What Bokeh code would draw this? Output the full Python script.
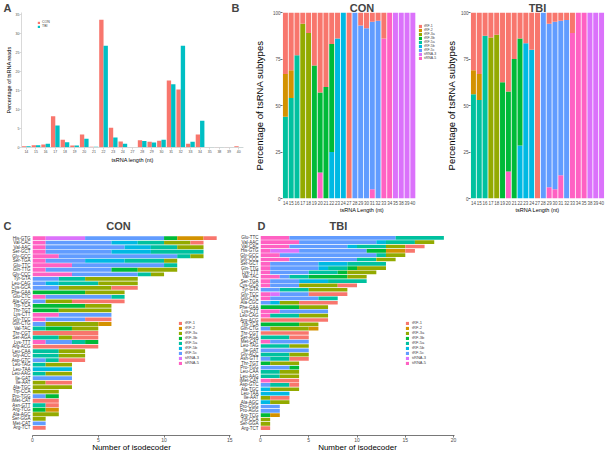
from bokeh.plotting import figure
from bokeh.models import (ColumnDataSource, Legend, LegendItem,
                          FactorRange, Range1d, FixedTicker)
from bokeh.layouts import row, column
from bokeh.transform import dodge
from bokeh.embed import file_html
from bokeh.resources import INLINE

FONT = "Liberation Sans"
NB = "\u00a0"

# ---------------- Panel A data ----------------
a_lengths = ["14", "15", "16", "17", "18", "19", "20", "21", "22", "23", "24", "27",
             "28", "29", "30", "31", "32", "33", "34", "35", "38", "39", "40"]
a_con = [0.3, 0.6, 0.8, 8.2, 2.0, 0.5, 3.4, 0.2, 33.5, 5.2, 1.6, 0.05,
         1.9, 1.5, 1.8, 17.6, 15.2, 1.0, 3.4, 0.1, 0.1, 0.1, 0.3]
a_tbi = [0.3, 0.6, 1.0, 5.8, 1.4, 0.5, 2.3, 0.2, 26.7, 2.6, 1.0, 0.0,
         1.7, 1.3, 2.0, 16.6, 26.7, 1.5, 7.0, 0.1, 0.1, 0.05, 0.15]

# ---------------- Panel B data (percent of subtypes per length) ----------------
b_lengths = a_lengths
subtypes = ["tRF-1", "tRF-2", "tRF-3a", "tRF-3b", "tRF-5a", "tRF-5b", "tRF-5c", "tiRNA-3", "tiRNA-5"]
sub_colors = ["#F8766D", "#D39200", "#93AA00", "#00BA38", "#00C19F", "#00B9E3", "#619CFF", "#DB72FB", "#FF61C3"]

b_con_trf1 = [33, 31, 23, 6, 11, 28.5, 43, 40, 17, 14, 0, 100, 0, 7, 8.5, 5, 4.5, 14, 0, 0, 0, 0, 0]
b_con_trf2 = [23, 15, 0, 0, 0, 0, 0, 0, 0, 0, 0, 0, 0, 0, 0, 0, 0, 0, 0, 0, 0, 0, 0]
b_con_trf3a = [0, 0, 0, 94, 89, 0, 0, 0, 0, 0, 0, 0, 0, 0, 0, 0, 0, 0, 0, 0, 0, 0, 0]
b_con_trf3b = [0, 0, 0, 0, 0, 71.5, 43, 60, 58, 0, 0, 0, 0, 0, 0, 0, 0, 0, 0, 0, 0, 0, 0]
b_con_trf5a = [44, 54, 77, 0, 0, 0, 0, 0, 0, 0, 0, 0, 0, 0, 0, 0, 0, 0, 0, 0, 0, 0, 0]
b_con_trf5b = [0, 0, 0, 0, 0, 0, 0, 0, 25, 86, 100, 0, 0, 0, 0, 0, 0, 0, 0, 0, 0, 0, 0]
b_con_trf5c = [0, 0, 0, 0, 0, 0, 0, 0, 0, 0, 0, 0, 100, 93, 91.5, 90, 95.5, 0, 0, 0, 0, 0, 0]
b_con_tirna3 = [0, 0, 0, 0, 0, 0, 0, 0, 0, 0, 0, 0, 0, 0, 0, 0, 0, 0, 0, 100, 100, 100, 100]
b_con_tirna5 = [0, 0, 0, 0, 0, 0, 14, 0, 0, 0, 0, 0, 0, 0, 0, 5, 0, 86, 100, 0, 0, 0, 0]

b_tbi_trf1 = [31, 33, 12.5, 13.5, 12, 37.5, 42.5, 25, 14, 16.5, 20, 100, 0, 6, 5, 4.5, 4, 11, 0, 0, 0, 0, 0]
b_tbi_trf2 = [13, 14, 0, 0, 0, 0, 0, 0, 0, 0, 0, 0, 0, 0, 0, 0, 0, 0, 0, 0, 0, 0, 0]
b_tbi_trf3a = [0, 0, 0, 86.5, 88, 0, 0, 0, 0, 0, 0, 0, 0, 0, 0, 0, 0, 0, 0, 0, 0, 0, 0]
b_tbi_trf3b = [0, 0, 0, 0, 0, 62.5, 43, 75, 57.5, 0, 0, 0, 0, 0, 0, 0, 0, 0, 0, 0, 0, 0, 0]
b_tbi_trf5a = [56, 53, 87.5, 0, 0, 0, 0, 0, 0, 0, 0, 0, 0, 0, 0, 0, 0, 0, 0, 0, 0, 0, 0]
b_tbi_trf5b = [0, 0, 0, 0, 0, 0, 0, 0, 28.5, 83.5, 80, 0, 0, 0, 0, 0, 0, 0, 0, 0, 0, 0, 0]
b_tbi_trf5c = [0, 0, 0, 0, 0, 0, 0, 0, 0, 0, 0, 0, 100, 88, 90, 83, 96, 0, 0, 0, 0, 0, 0]
b_tbi_tirna3 = [0, 0, 0, 0, 0, 0, 0, 0, 0, 0, 0, 0, 0, 0, 0, 0, 0, 0, 0, 0, 100, 100, 100]
b_tbi_tirna5 = [0, 0, 0, 0, 0, 0, 14.5, 0, 0, 0, 0, 0, 0, 6, 5, 12.5, 0, 89, 100, 100, 0, 0, 0]

# ---------------- Panel C data (CON isodecoders) ----------------
c_trna = ["His-GTG", "Val-CAC", "Val-AAC", "Ser-GCT", "Gly-GCC", "Ser-TGA", "Glu-TTC", "Gln-TTG",
          "Gly-CCC", "Tyr-GTA", "Leu-CAG", "Cys-GCA", "Phe-GAA", "Glu-CTC", "Ala-CGC", "Trp-TCA",
          "Thr-TGT", "Lys-CTT", "Gly-TCC", "Gln-CTG", "Val-TAC", "Thr-CGT", "Ser-AGA", "Lys-TTT",
          "Arg-ACG", "Leu-CAA", "Gly-ACC", "Asp-GTC", "Leu-TAG", "Leu-TAA", "Leu-AAG", "Ile-GAT",
          "Ile-AAT", "Ala-TGC", "Trp-CCA", "Pro-TGG", "iMet-CAT", "Asn-GTT", "Arg-TCG", "Ala-AGC",
          "Ser-GGA", "Met-CAT", "Arg-TCT"]
c_tirna5 = [1, 1, 1, 1, 2, 1, 3, 1, 3, 0, 0, 0, 0, 1, 0, 0, 0, 2, 1, 0, 0, 0, 0, 1, 0, 0, 0, 0, 0, 0, 0, 0, 0, 0, 0, 0, 0, 0, 0, 0, 0, 0, 0]
c_tirna3 = [3, 0, 0, 0, 0, 0, 0, 0, 0, 0, 0, 0, 0, 0, 0, 0, 0, 0, 0, 0, 0, 0, 0, 0, 0, 0, 0, 0, 0, 0, 0, 0, 0, 0, 0, 0, 0, 0, 0, 0, 0, 0, 0]
c_trf5c = [6, 5, 6, 5, 9, 3, 7, 5, 5, 2, 1, 2, 0, 5, 1, 0, 0, 4, 3, 1, 0, 0, 0, 2, 0, 0, 0, 1, 0, 0, 0, 3, 0, 0, 0, 1, 0, 0, 0, 0, 0, 1, 0]
c_trf5b = [0, 2, 2, 3, 0, 3, 0, 0, 0, 0, 1, 0, 0, 0, 0, 0, 0, 0, 0, 0, 0, 0, 0, 0, 0, 0, 0, 0, 0, 3, 0, 0, 0, 0, 0, 0, 0, 0, 0, 0, 0, 0, 0]
c_trf5a = [0, 2, 2, 4, 1, 3, 1, 0, 1, 2, 3, 0, 0, 1, 0, 0, 0, 0, 0, 0, 1, 0, 2, 1, 0, 2, 2, 1, 1, 0, 1, 0, 0, 0, 0, 0, 0, 1, 0, 0, 0, 0, 0]
c_trf3b = [1, 0, 0, 0, 0, 0, 0, 2, 0, 0, 0, 0, 4, 0, 0, 4, 2, 0, 0, 0, 2, 0, 0, 1, 0, 0, 0, 0, 0, 0, 0, 0, 0, 0, 0, 1, 0, 0, 1, 0, 0, 0, 0]
c_trf3a = [0, 2, 2, 0, 1, 1, 0, 3, 1, 4, 3, 4, 3, 0, 2, 2, 4, 0, 0, 4, 2, 0, 1, 0, 0, 2, 2, 0, 2, 0, 2, 0, 1, 3, 2, 0, 0, 0, 0, 2, 1, 0, 0]
c_trf2 = [2, 0, 0, 0, 0, 0, 0, 0, 0, 0, 0, 0, 0, 0, 0, 0, 0, 0, 0, 1, 0, 0, 0, 0, 0, 0, 0, 0, 0, 0, 0, 0, 0, 0, 0, 0, 0, 0, 1, 0, 0, 0, 0]
c_trf1 = [1, 1, 0, 0, 0, 0, 0, 0, 0, 0, 0, 2, 0, 0, 4, 0, 0, 0, 2, 0, 0, 5, 2, 0, 5, 0, 0, 2, 0, 0, 0, 0, 2, 0, 0, 0, 2, 1, 0, 0, 0, 0, 1]

# ---------------- Panel D data (TBI isodecoders) ----------------
d_trna = ["Glu-TTC", "Val-AAC", "Val-CAC", "His-GTG", "Gly-GCC", "Gly-CCC", "Ser-GCT", "Gln-TTG",
          "Lys-TTT", "Val-TAC", "Ser-TGA", "Cys-GCA", "Tyr-GTA", "Gly-TCC", "Glu-CTC", "Ala-CGC",
          "Phe-GAA", "Lys-CTT", "Leu-CAG", "Arg-ACG", "Trp-TCA", "Gln-CTG", "Thr-CGT", "Ser-AGA",
          "Met-CAT", "Leu-TAG", "Ile-GAT", "Gly-ACC", "Asn-GTT", "Thr-TGT", "Pro-TGG", "Leu-CAA",
          "Leu-AAG", "iMet-CAT", "Asp-GTC", "Ala-TGC", "Leu-TAA", "Ile-AAT", "Ala-AGC", "Pro-CGG",
          "Pro-AGG", "Arg-TCG", "Trp-CCA", "Ser-GGA", "Arg-TCT"]
d_tirna5 = [3, 4, 3, 1, 2, 3, 1, 1, 1, 2, 1, 1, 0, 1, 1, 0, 0, 2, 1, 0, 0, 0, 0, 0, 1, 0, 0, 0, 0, 0, 0, 0, 0, 1, 0, 0, 0, 0, 0, 0, 0, 0, 0, 0, 0]
d_tirna3 = [0, 0, 0, 3, 0, 0, 0, 0, 0, 0, 0, 0, 0, 1, 0, 0, 0, 0, 0, 0, 0, 0, 0, 0, 0, 0, 0, 0, 0, 0, 0, 0, 0, 0, 0, 0, 0, 0, 0, 0, 0, 0, 0, 0, 0]
d_trf5c = [11, 8, 6, 7, 10, 7, 5, 5, 4, 1, 3, 3, 2, 3, 5, 1, 0, 5, 0, 0, 0, 1, 0, 0, 4, 0, 5, 0, 1, 0, 3, 0, 0, 0, 1, 0, 0, 0, 0, 2, 2, 0, 0, 0, 0]
d_trf5b = [0, 1, 1, 0, 0, 0, 3, 1, 0, 0, 3, 0, 0, 0, 0, 1, 0, 0, 0, 0, 0, 0, 0, 0, 0, 0, 0, 0, 0, 0, 0, 0, 0, 0, 0, 1, 3, 0, 1, 0, 0, 0, 0, 0, 0]
d_trf5a = [5, 3, 3, 0, 1, 2, 4, 2, 3, 2, 4, 0, 3, 0, 2, 0, 0, 0, 3, 0, 0, 0, 0, 3, 0, 3, 0, 3, 2, 0, 0, 2, 2, 0, 2, 0, 0, 0, 0, 0, 0, 0, 0, 0, 0]
d_trf3b = [0, 0, 0, 2, 0, 0, 0, 1, 1, 4, 0, 0, 0, 0, 0, 0, 4, 0, 0, 0, 4, 0, 0, 0, 0, 0, 0, 0, 0, 1, 1, 0, 0, 0, 0, 0, 0, 0, 0, 0, 0, 1, 0, 0, 0]
d_trf3a = [0, 2, 2, 0, 2, 2, 0, 3, 3, 2, 0, 4, 4, 0, 0, 2, 3, 0, 3, 0, 2, 4, 0, 0, 0, 2, 0, 2, 0, 3, 0, 2, 2, 0, 0, 3, 0, 1, 2, 0, 0, 0, 1, 1, 0]
d_trf2 = [0, 0, 0, 2, 0, 0, 0, 0, 0, 0, 0, 0, 0, 0, 0, 0, 0, 0, 0, 0, 0, 1, 0, 0, 0, 0, 0, 0, 0, 0, 0, 0, 0, 0, 0, 0, 0, 0, 0, 0, 0, 1, 0, 0, 0]
d_trf1 = [0, 0, 2, 1, 0, 0, 0, 0, 0, 0, 0, 2, 0, 4, 0, 4, 0, 0, 0, 7, 0, 0, 5, 2, 0, 0, 0, 0, 2, 0, 0, 0, 0, 3, 1, 0, 0, 2, 0, 0, 0, 0, 0, 0, 1]

# stacking order: first drawn at the base (left / bottom)
stack_order = ["tiRNA-5", "tiRNA-3", "tRF-5c", "tRF-5b", "tRF-5a", "tRF-3b", "tRF-3a", "tRF-2", "tRF-1"]
color_of = dict(zip(subtypes, sub_colors))


def base_style(p):
    p.outline_line_color = None
    p.xgrid.grid_line_color = None
    p.ygrid.grid_line_color = None
    p.background_fill_color = "white"
    p.border_fill_color = "white"


def style_axis(ax, line_color, tick_color, label_fs, title_fs, title_standoff=0):
    ax.axis_line_color = line_color
    ax.axis_line_width = 0.8
    ax.major_tick_line_color = tick_color
    ax.major_tick_line_width = 0.8
    ax.minor_tick_line_color = None
    ax.major_tick_out = 2
    ax.major_tick_in = 0
    ax.major_label_text_font = FONT
    ax.major_label_text_font_size = label_fs
    ax.major_label_text_color = "#4d4d4d"
    ax.major_label_standoff = 0
    ax.axis_label_text_font = FONT
    ax.axis_label_text_font_size = title_fs
    ax.axis_label_text_font_style = "normal"
    ax.axis_label_text_color = "black"
    ax.axis_label_standoff = title_standoff


def set_title(p, txt, align="center", offset=0):
    p.title.text = txt
    p.title.text_font = FONT
    p.title.text_font_size = "11px"
    p.title.text_font_style = "bold"
    p.title.align = align
    p.title.offset = offset
    p.title.standoff = -2


def small_legend(items, loc, fs, g, spacing, standoff):
    return Legend(items=items, location=loc, label_text_font=FONT, label_text_font_size=fs,
                  glyph_width=g, glyph_height=g, label_height=g, label_standoff=standoff,
                  spacing=spacing, padding=0, margin=0, border_line_color=None,
                  background_fill_alpha=0)


# ================= Panel A =================
pA = figure(width=244, height=215, x_range=FactorRange(factors=a_lengths),
            y_range=Range1d(0, 35.4), output_backend="svg", toolbar_location=None,
            min_border_left=21, min_border_right=1, min_border_top=10, min_border_bottom=68,
            frame_align=False)
base_style(pA)
srcA = ColumnDataSource(data=dict(length=a_lengths, con=a_con, tbi=a_tbi))
rA1 = pA.vbar(x=dodge("length", -0.225, range=pA.x_range), top="con", width=0.45,
              source=srcA, color="#F8766D", line_color=None)
rA2 = pA.vbar(x=dodge("length", 0.225, range=pA.x_range), top="tbi", width=0.45,
              source=srcA, color="#00BFC4", line_color=None)
pA.yaxis.ticker = FixedTicker(ticks=[0, 5, 10, 15, 20, 25, 30, 35])
style_axis(pA.xaxis[0], "#cfcfcf", "#cfcfcf", "3.5px", "5.5px", 1)
style_axis(pA.yaxis[0], "#cfcfcf", "#cfcfcf", "3.5px", "5.5px", 1)
pA.xaxis.axis_label = "tsRNA length (nt)"
pA.yaxis.axis_label = "Percentage of tsRNA reads"
pA.add_layout(small_legend([LegendItem(label="CON", renderers=[rA1]),
                            LegendItem(label="TBI", renderers=[rA2])],
                           (16, 119), "3.5px", 3, 0, 2))
set_title(pA, "A" + NB * 72 + "B", align="left", offset=-18)

# ================= Panel B =================
b_pos = list(range(len(b_lengths)))
b_labels = {i: lab for i, lab in zip(b_pos, b_lengths)}


def panel_b(title, data, width, mbl, mbr, xmax, ytitle_standoff, title_offset):
    p = figure(width=width, height=215, x_range=Range1d(-0.5, xmax),
               y_range=Range1d(0, 100), output_backend="svg", toolbar_location=None,
               min_border_left=mbl, min_border_right=mbr, min_border_top=12, min_border_bottom=15,
               frame_align=False)
    base_style(p)
    src = ColumnDataSource(data=dict(pos=b_pos, **data))
    rs = p.vbar_stack(stack_order, x="pos", width=0.86, source=src,
                      color=[color_of[s] for s in stack_order], line_color=None)
    p.xaxis.ticker = FixedTicker(ticks=b_pos)
    p.xaxis.major_label_overrides = b_labels
    p.yaxis.ticker = FixedTicker(ticks=[0, 25, 50, 75, 100])
    style_axis(p.xaxis[0], None, None, "4.5px", "5.5px", -1)
    style_axis(p.yaxis[0], None, "#4d4d4d", "4.5px", "9.5px", ytitle_standoff)
    p.xaxis.axis_label = "tsRNA Length (nt)"
    p.yaxis.axis_label = "Percentage of tsRNA subtypes"
    set_title(p, title, offset=title_offset)
    return p, dict(zip(stack_order, rs))


pB1, rB1 = panel_b("CON", {"tRF-1": b_con_trf1, "tRF-2": b_con_trf2, "tRF-3a": b_con_trf3a,
                           "tRF-3b": b_con_trf3b, "tRF-5a": b_con_trf5a, "tRF-5b": b_con_trf5b,
                           "tRF-5c": b_con_trf5c, "tiRNA-3": b_con_tirna3, "tiRNA-5": b_con_tirna5},
                   198, 38, 1, 26.95, 5, -7)
pB2, _ = panel_b("TBI", {"tRF-1": b_tbi_trf1, "tRF-2": b_tbi_trf2, "tRF-3a": b_tbi_trf3a,
                         "tRF-3b": b_tbi_trf3b, "tRF-5a": b_tbi_trf5a, "tRF-5b": b_tbi_trf5b,
                         "tRF-5c": b_tbi_trf5c, "tiRNA-3": b_tbi_tirna3, "tiRNA-5": b_tbi_tirna5},
                 166, 22, 4, 22.5, 1, -3)
pB1.add_layout(small_legend([LegendItem(label=s, renderers=[rB1[s]]) for s in subtypes],
                            (136, 138), "3.5px", 4, 0, 2))


# ================= Panels C and D =================
def panel_iso(title, trnas, data, xmax, ticks, width, mbl, mbr, title_offset, leg_x):
    p = figure(width=width, height=239,
               y_range=FactorRange(factors=list(reversed(trnas)), range_padding=1.2,
                                   range_padding_units="absolute"),
               x_range=Range1d(0, xmax), output_backend="svg", toolbar_location=None,
               min_border_left=mbl, min_border_right=mbr, min_border_top=15, min_border_bottom=16,
               frame_align=False)
    base_style(p)
    src = ColumnDataSource(data=dict(trna=trnas, **data))
    rs = p.hbar_stack(stack_order, y="trna", height=0.85, source=src,
                      color=[color_of[s] for s in stack_order], line_color=None)
    p.xaxis.ticker = FixedTicker(ticks=ticks)
    style_axis(p.xaxis[0], "#555555", "#555555", "5px", "8px", -2)
    style_axis(p.yaxis[0], None, None, "4.5px", "5px", 0)
    p.yaxis.major_label_text_color = "#333333"
    p.xaxis.axis_label = "Number of isodecoder"
    set_title(p, title, align="left", offset=title_offset)
    rmap = dict(zip(stack_order, rs))
    p.add_layout(small_legend([LegendItem(label=s, renderers=[rmap[s]]) for s in subtypes],
                              (leg_x, 70), "4px", 4, 0, 3))
    return p


pC = panel_iso("C" + NB * 31 + "CON", c_trna,
               {"tRF-1": c_trf1, "tRF-2": c_trf2, "tRF-3a": c_trf3a, "tRF-3b": c_trf3b,
                "tRF-5a": c_trf5a, "tRF-5b": c_trf5b, "tRF-5c": c_trf5c,
                "tiRNA-3": c_tirna3, "tiRNA-5": c_tirna5},
               15.05, [0, 5, 10, 15], 236, 32, 6, -29, 146)
pD = panel_iso("D" + NB * 21 + "TBI", d_trna,
               {"tRF-1": d_trf1, "tRF-2": d_trf2, "tRF-3a": d_trf3a, "tRF-3b": d_trf3b,
                "tRF-5a": d_trf5a, "tRF-5b": d_trf5b, "tRF-5c": d_trf5c,
                "tiRNA-3": d_tirna3, "tiRNA-5": d_tirna5},
               20.1, [0, 5, 10, 15, 20], 372, 20, 154, -3, 145)

layout = column(row(pA, pB1, pB2), row(pC, pD))
open("out.html", "w").write(file_html(layout, INLINE))
